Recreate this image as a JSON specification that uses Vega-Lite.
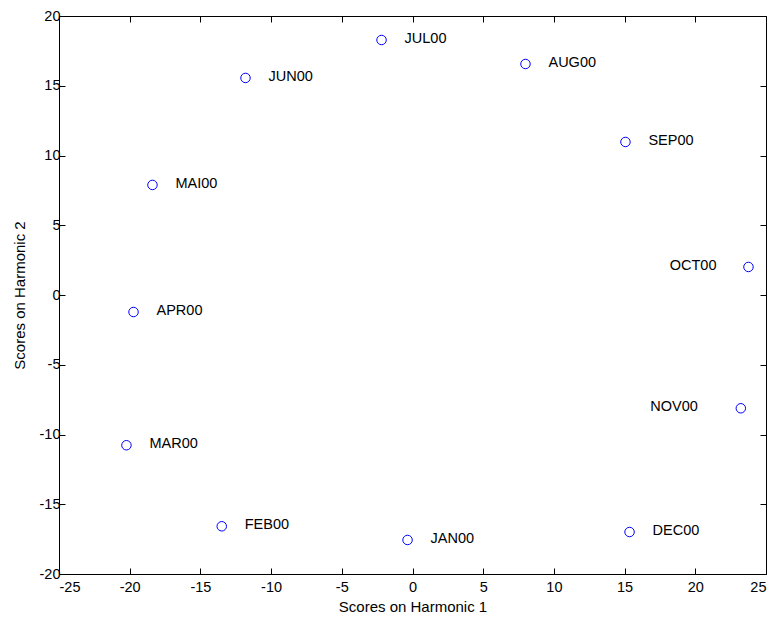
{
  "$schema": "https://vega.github.io/schema/vega-lite/v6.json",
  "width": 707,
  "height": 558,
  "autosize": {"type": "none"},
  "padding": {"left": 59, "top": 16, "right": 8, "bottom": 45},
  "background": "white",
  "config": {
    "view": {"stroke": "black", "strokeWidth": 1},
    "axis": {
      "grid": false,
      "domain": false,
      "tickColor": "black",
      "tickSize": -6,
      "labelFont": "Liberation Sans",
      "labelFontSize": 14.5,
      "labelColor": "black",
      "labelExpr": "'' + datum.value",
      "titleFont": "Liberation Sans",
      "titleFontSize": 15,
      "titleFontWeight": "normal",
      "titleColor": "black"
    }
  },
  "data": {
    "values": [
      {"month": "JAN00", "h1": -0.35, "h2": -17.56},
      {"month": "FEB00", "h1": -13.49, "h2": -16.58},
      {"month": "MAR00", "h1": -20.23, "h2": -10.77},
      {"month": "APR00", "h1": -19.73, "h2": -1.22},
      {"month": "MAI00", "h1": -18.39, "h2": 7.89},
      {"month": "JUN00", "h1": -11.81, "h2": 15.56},
      {"month": "JUL00", "h1": -2.19, "h2": 18.28},
      {"month": "AUG00", "h1": 7.99, "h2": 16.56},
      {"month": "SEP00", "h1": 15.06, "h2": 10.97},
      {"month": "OCT00", "h1": 23.76, "h2": 2.01},
      {"month": "NOV00", "h1": 23.22, "h2": -8.12},
      {"month": "DEC00", "h1": 15.35, "h2": -16.99}
    ]
  },
  "resolve": {"axis": {"x": "independent", "y": "independent"}},
  "layer": [
    {
      "mark": {"type": "point", "shape": "circle", "filled": false, "color": "#0000FF", "size": 90, "strokeWidth": 1, "opacity": 1},
      "encoding": {
        "x": {"field": "h1", "type": "quantitative", "scale": {"domain": [-25, 25], "nice": false, "zero": false},
          "axis": {"orient": "bottom", "values": [-25,-20,-15,-10,-5,0,5,10,15,20,25], "title": "Scores on Harmonic 1", "labelPadding": 12, "titlePadding": 6}},
        "y": {"field": "h2", "type": "quantitative", "scale": {"domain": [-20, 20], "nice": false, "zero": false},
          "axis": {"orient": "left", "values": [-20,-15,-10,-5,0,5,10,15,20], "title": "Scores on Harmonic 2", "labelPadding": 5, "titlePadding": 12}}
      }
    },
    {
      "mark": {"type": "point", "opacity": 0},
      "encoding": {
        "x": {"field": "h1", "type": "quantitative", "axis": {"orient": "top", "values": [-25,-20,-15,-10,-5,0,5,10,15,20,25], "labels": false, "title": null}},
        "y": {"field": "h2", "type": "quantitative", "axis": {"orient": "right", "values": [-20,-15,-10,-5,0,5,10,15,20], "labels": false, "title": null}}
      }
    },
    {
      "transform": [{"filter": "datum.month != 'OCT00' && datum.month != 'NOV00'"}],
      "mark": {"type": "text", "align": "left", "baseline": "middle", "dx": 23, "dy": -1, "font": "Liberation Sans", "fontSize": 14.5, "color": "black"},
      "encoding": {
        "x": {"field": "h1", "type": "quantitative", "axis": null},
        "y": {"field": "h2", "type": "quantitative", "axis": null},
        "text": {"field": "month"}
      }
    },
    {
      "transform": [{"filter": "datum.month == 'OCT00'"}],
      "mark": {"type": "text", "align": "right", "baseline": "middle", "dx": -32, "dy": -1, "font": "Liberation Sans", "fontSize": 14.5, "color": "black"},
      "encoding": {
        "x": {"field": "h1", "type": "quantitative", "axis": null},
        "y": {"field": "h2", "type": "quantitative", "axis": null},
        "text": {"field": "month"}
      }
    },
    {
      "transform": [{"filter": "datum.month == 'NOV00'"}],
      "mark": {"type": "text", "align": "right", "baseline": "middle", "dx": -43, "dy": -1, "font": "Liberation Sans", "fontSize": 14.5, "color": "black"},
      "encoding": {
        "x": {"field": "h1", "type": "quantitative", "axis": null},
        "y": {"field": "h2", "type": "quantitative", "axis": null},
        "text": {"field": "month"}
      }
    }
  ]
}
